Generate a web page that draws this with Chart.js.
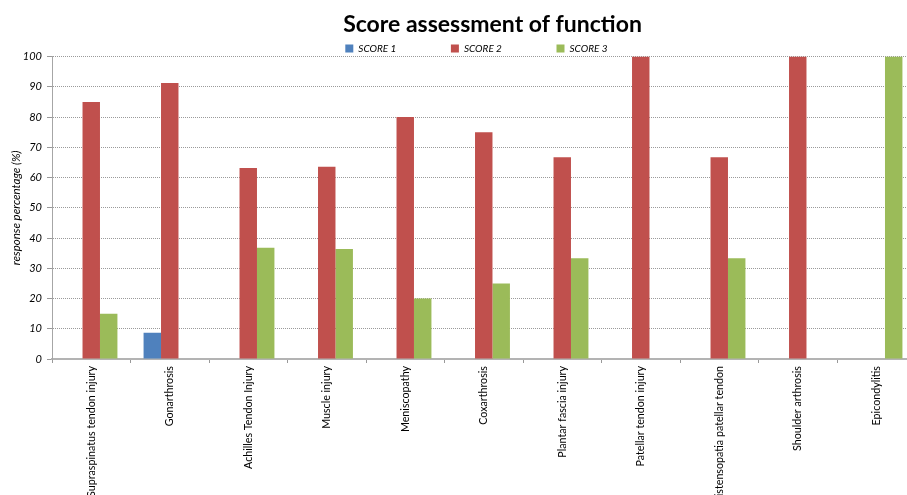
<!DOCTYPE html>
<html>
<head>
<meta charset="utf-8">
<script src="https://cdn.jsdelivr.net/npm/chart.js@4.4.1/dist/chart.umd.min.js"></script>
<style>
html,body{margin:0;padding:0;background:#fff;overflow:hidden;width:907px;height:495px;}
#wrap{position:absolute;left:0;top:0;width:985px;height:495px;}
</style>
</head>
<body>
<div id="wrap"><canvas id="c"></canvas></div>
<script>
const categories = [
  "Supraspinatus tendon injury",
  "Gonarthrosis",
  "Achilles Tendon Injury",
  "Muscle injury",
  "Meniscopathy",
  "Coxarthrosis",
  "Plantar fascia injury",
  "Patellar tendon injury",
  "Distensopatia patellar tendon",
  "Shoulder arthrosis",
  "Epicondylitis"
];
const seriesNames = ["SCORE 1", "SCORE 2", "SCORE 3"];
const score1 = [0, 8.7, 0, 0, 0, 0, 0, 0, 0, 0, 0];
const score2 = [85, 91.3, 63.2, 63.6, 80, 75, 66.7, 100, 66.7, 100, 0];
const score3 = [15, 0, 36.8, 36.4, 20, 25, 33.3, 0, 33.3, 0, 100];
const yTicks = [0, 10, 20, 30, 40, 50, 60, 70, 80, 90, 100];
const chartTitle = "Score assessment of function";
const yTitle = "response percentage (%)";
const colors = ["#4F81BD", "#C0504D", "#9BBB59"];

const sp = "\u2002";
const legendPad = [sp.repeat(11), sp.repeat(11), sp.repeat(7)];

// trims the extra space Chart.js reserves below the legend row
const legendTrim = {
  id: 'legendTrim',
  beforeLayout(chart) {
    const lg = chart.legend;
    if (lg && !lg._trimmed) {
      const orig = lg.fit;
      lg.fit = function () { orig.call(this); this.height -= 7; };
      lg._trimmed = true;
    }
  }
};

const ctx = document.getElementById('c');
new Chart(ctx, {
  type: 'bar',
  data: {
    labels: categories,
    datasets: [score1, score2, score3].map((d, i) => ({
      label: seriesNames[i],
      data: d,
      backgroundColor: colors[i],
      borderWidth: 0,
      categoryPercentage: 0.667,
      barPercentage: 1.0
    }))
  },
  plugins: [legendTrim],
  options: {
    responsive: true,
    maintainAspectRatio: false,
    animation: false,
    devicePixelRatio: 1,
    layout: { padding: 0 },
    plugins: {
      title: {
        display: true,
        text: chartTitle,
        color: '#000',
        font: { family: 'Lato', size: 23, weight: 'bold' },
        padding: { top: 11, bottom: 1 }
      },
      legend: {
        display: true,
        position: 'top',
        labels: {
          color: '#000',
          font: { family: 'Lato', size: 10, style: 'italic' },
          boxWidth: 8,
          boxHeight: 8,
          padding: 4,
          generateLabels(chart) {
            return chart.data.datasets.map((ds, i) => ({
              text: ds.label + legendPad[i],
              fillStyle: ds.backgroundColor,
              strokeStyle: ds.backgroundColor,
              lineWidth: 0,
              hidden: false,
              datasetIndex: i
            }));
          }
        }
      },
      tooltip: { enabled: false }
    },
    scales: {
      x: {
        grid: {
          display: true,
          drawOnChartArea: false,
          drawTicks: true,
          tickLength: 4,
          tickColor: '#999',
          offset: true
        },
        border: { display: true, color: '#b3b3b3', width: 2 },
        ticks: {
          autoSkip: false,
          maxRotation: 90,
          minRotation: 90,
          padding: 3,
          color: '#000',
          font: { family: 'Lato', size: 10.7 }
        },
        afterFit(s) { s.height = 136; }
      },
      y: {
        min: 0,
        max: 100,
        afterBuildTicks(s) { s.ticks = yTicks.map(v => ({ value: v })); },
        grid: {
          color: '#9a9a9a',
          lineWidth: 1,
          drawTicks: true,
          tickLength: 5,
          tickColor: '#999',
          tickBorderDash: []
        },
        border: { display: true, color: '#a6a6a6', width: 1, dash: [1, 1] },
        ticks: {
          padding: 5,
          color: '#000',
          font: { family: 'Lato', size: 11, style: 'italic' }
        },
        title: {
          display: true,
          text: yTitle,
          color: '#000',
          font: { family: 'Lato', size: 11.5, style: 'italic' },
          padding: { top: 9, bottom: 0 }
        },
        afterFit(s) { s.width = 52; }
      },
      y2: {
        position: 'right',
        display: true,
        grid: { display: false, drawOnChartArea: false },
        border: { display: false },
        ticks: { display: false },
        afterFit(s) { s.width = 69.5; }
      }
    }
  }
});
</script>
</body>
</html>
